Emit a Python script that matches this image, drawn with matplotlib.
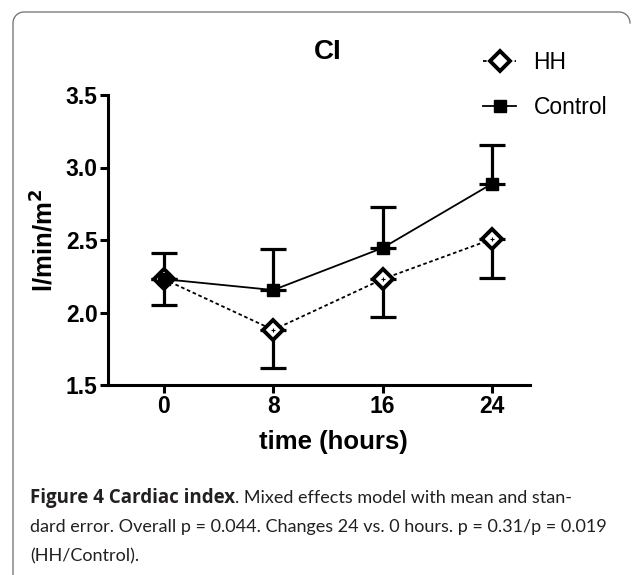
import numpy as np
import matplotlib
matplotlib.use("Agg")
import matplotlib.pyplot as plt
from matplotlib.lines import Line2D

# ---- data ----
time_hours = [0, 8, 16, 24]
hh_mean = [2.23, 1.88, 2.23, 2.505]
hh_sem = [0.18, 0.26, 0.26, 0.27]
control_mean = [2.23, 2.155, 2.445, 2.887]
control_sem = [0.18, 0.28, 0.28, 0.27]
x_ticks = [0, 8, 16, 24]
y_ticks = [1.5, 2.0, 2.5, 3.0, 3.5]
y_ticklabels = ["1.5", "2.0", "2.5", "3.0", "3.5"]
series_labels = ["HH", "Control"]

W, H = 634, 575
fig = plt.figure(figsize=(W / 100, H / 100), dpi=100)
fig.patch.set_facecolor("white")

# ---- rounded frame (top-left and top-right corners, left side) ----
def px(xp, yp):
    return np.asarray(xp) / W, 1 - np.asarray(yp) / H

r = 11
th1 = np.linspace(np.pi, np.pi / 2, 20)
th2 = np.linspace(np.pi / 2, 0, 20)
fx = np.concatenate([[13, 13], 13 + r + r * np.cos(th1), 630 - r + r * np.cos(th2)])
fy = np.concatenate([[580, 12 + r], 12 + r - r * np.sin(th1), 12 + r - r * np.sin(th2)])
fxx, fyy = px(fx, fy)
fig.add_artist(Line2D(fxx, fyy, transform=fig.transFigure, color="#6d6d6d", lw=0.9))

ax = fig.add_axes([108 / W, 1 - 385 / H, (530 - 108) / W, (385 - 95) / H])
bold = dict(family="Liberation Sans", weight="bold")

# error bars: Control upward, HH downward
ax.errorbar(time_hours, control_mean, yerr=[[0] * 4, control_sem], fmt="none",
            ecolor="black", elinewidth=2.3, capsize=9.5, capthick=2.3, zorder=2)
ax.errorbar(time_hours, hh_mean, yerr=[hh_sem, [0] * 4], fmt="none",
            ecolor="black", elinewidth=2.3, capsize=9.5, capthick=2.3, zorder=2)

ax.plot(time_hours, control_mean, "-", color="black", lw=1.3, zorder=3)
ax.plot(time_hours, hh_mean, color="black", lw=1.3, linestyle=(0, (2, 1.5)), zorder=3)
ax.plot(time_hours, hh_mean, "D", mfc="white", mec="black", mew=2.8, ms=10,
        zorder=5, linestyle="none")
ax.plot(time_hours, hh_mean, "+", color="black", ms=3, mew=0.8, zorder=6, linestyle="none")
ax.plot(time_hours, control_mean, "s", color="black", ms=8, zorder=7, linestyle="none")

ax.set_xlim(-4.1, 26.8)
ax.set_ylim(1.5, 3.5)
ax.set_xticks(x_ticks)
ax.set_xticklabels([str(t) for t in x_ticks], **bold, fontsize=16.5)
ax.set_yticks(y_ticks)
ax.set_yticklabels(y_ticklabels, **bold, fontsize=16.5)
ax.tick_params(width=2.2, length=6, pad=1.5)
for s in ["top", "right"]:
    ax.spines[s].set_visible(False)
for s in ["left", "bottom"]:
    ax.spines[s].set_linewidth(2.2)
ax.set_xlabel("time (hours)", fontsize=18.5, **bold)
ax.xaxis.set_label_coords(0.535, -0.155)
ax.set_ylabel("l/min/m$^\\mathbf{2}$", fontsize=18.5, **bold)
ax.yaxis.set_label_coords(-0.12, 0.5)
fig.text(328 / W, 1 - 52 / H, "CI", ha="center", va="center", fontsize=20, **bold)

# legend
h1 = Line2D([], [], color="black", lw=1.3, linestyle=(0, (2, 1.5)), marker="D",
            mfc="white", mec="black", mew=2.8, ms=10)
h2 = Line2D([], [], color="black", lw=1.3, marker="s", ms=8)
leg = fig.legend([h1, h2], series_labels, loc="center left",
                 bbox_to_anchor=(483 / W, 1 - 85 / H), frameon=False, borderpad=0,
                 prop=dict(family="Liberation Sans", size=16.5), handlelength=1.45,
                 labelspacing=0.95, handletextpad=0.75, borderaxespad=0)

# caption
col = "#231f20"
cap_x = 30 / W
fig.canvas.draw()
renderer = fig.canvas.get_renderer()
t_b = fig.text(cap_x, 1 - 498 / H, "Figure 4 Cardiac index", family="Open Sans",
               weight="bold", fontsize=13.5, va="center", color=col)
bb = t_b.get_window_extent(renderer)
fig.text(bb.x1 / W, 1 - 498 / H, ". Mixed effects model with mean and stan-",
         family="Lato", fontsize=13, va="center", color=col)
fig.text(cap_x, 1 - 527 / H,
         "dard error. Overall p = 0.044. Changes 24 vs. 0 hours. p = 0.31/p = 0.019",
         family="Lato", fontsize=13, va="center", color=col)
fig.text(cap_x, 1 - 556 / H, "(HH/Control).", family="Lato", fontsize=13,
         va="center", color=col)

fig.savefig("out.png", dpi=100)
